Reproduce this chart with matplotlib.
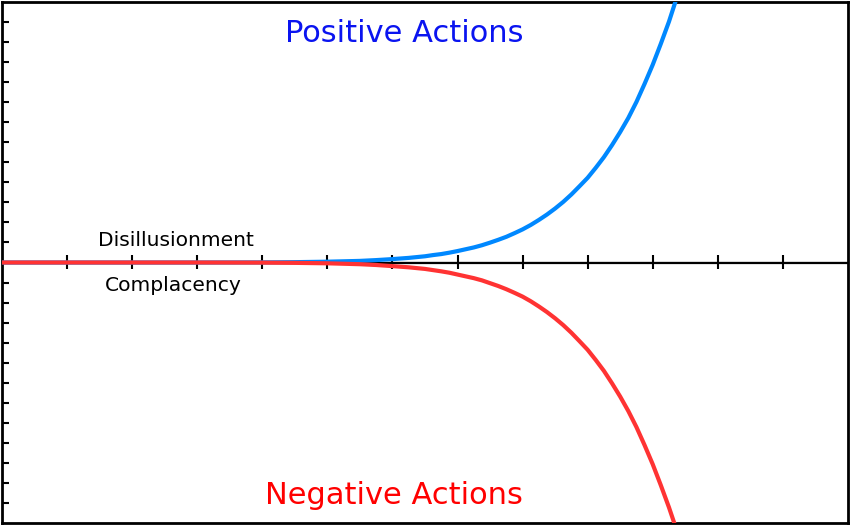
import matplotlib.pyplot as plt

# data
x_vals = [0, 1, 2, 3, 4, 4.5, 5, 5.5, 5.75, 6, 6.25, 6.5, 6.625, 6.75, 6.875,
          7, 7.125, 7.25, 7.375, 7.5, 7.625, 7.75, 7.875, 8, 8.125, 8.25, 8.375,
          8.5, 8.625, 8.75, 8.875, 9, 9.125, 9.25, 9.375, 9.5, 9.625, 9.75,
          9.875, 10, 10.125, 10.25, 10.375, 10.5]
positive = [0, 0, 0, 0, 0.006, 0.017, 0.04, 0.08, 0.12, 0.17, 0.23, 0.31, 0.37,
            0.42, 0.49, 0.57, 0.66, 0.75, 0.86, 0.99, 1.13, 1.28, 1.46, 1.65,
            1.87, 2.12, 2.39, 2.69, 3.02, 3.39, 3.8, 4.22, 4.72, 5.25, 5.85,
            6.5, 7.2, 8.0, 8.9, 9.85, 10.9, 12.0, 13.25, 14.6]
negative = [0, 0, 0, 0, -0.006, -0.018, -0.04, -0.085, -0.125, -0.18, -0.24,
            -0.32, -0.38, -0.44, -0.51, -0.6, -0.69, -0.78, -0.89, -1.03, -1.17,
            -1.33, -1.51, -1.7, -1.93, -2.19, -2.47, -2.78, -3.12, -3.5, -3.92,
            -4.35, -4.86, -5.4, -6.02, -6.68, -7.4, -8.2, -9.1, -10.05, -11.1,
            -12.2, -13.4, -14.7]
axis_ticks = list(range(1, 13))
side_ticks = [v for v in range(-12, 13) if v != 0]

fig = plt.figure(figsize=(8.5, 5.25), dpi=100)
ax = fig.add_axes([0.0025, 0.003, 0.995, 0.994])

# curves (red drawn on top of blue)
ax.plot(x_vals, positive, color='#0088ff', linewidth=3, zorder=3)
ax.plot(x_vals, negative, color='#ff3333', linewidth=3, zorder=4)

ax.set_xlim(0, 13)
ax.set_ylim(-13, 13)

# frame + left ticks
for s in ax.spines.values():
    s.set_linewidth(2)
    s.set_color('black')
ax.set_xticks([])
ax.set_yticks(side_ticks)
ax.set_yticklabels([])
ax.tick_params(axis='y', direction='in', length=5, width=1.5, left=True, right=False)

# middle axis with crossing ticks
ax.axhline(0, color='black', linewidth=1.6, zorder=2)
mid = ax.secondary_xaxis(0.5)
mid.set_xticks(axis_ticks)
mid.set_xticklabels([])
mid.tick_params(direction='inout', length=10, width=1.5)

# labels
ax.text(6.18, 11.4, 'Positive Actions', color='#0a14f0', fontsize=22,
        ha='center', va='center')
ax.text(6.02, -11.6, 'Negative Actions', color='#ff0000', fontsize=22,
        ha='center', va='center')
ax.text(2.67, 1.09, 'Disillusionment', color='black', fontsize=14.6,
        ha='center', va='center')
ax.text(2.63, -1.14, 'Complacency', color='black', fontsize=14.6,
        ha='center', va='center')

plt.savefig('out.png', dpi=100)
